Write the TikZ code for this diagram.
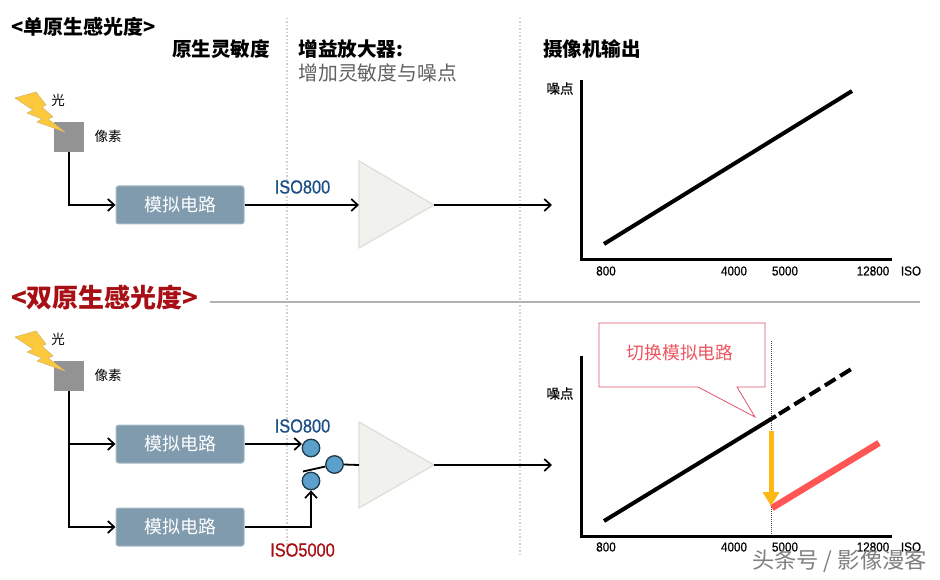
\documentclass[tikz,border=0pt]{standalone}
\usepackage{fontspec}
\setmainfont{Noto Sans CJK SC}
\newfontfamily\isofont[FakeStretch=0.86,FakeBold=0.6]{Liberation Sans}
\newfontfamily\tickfont[FakeStretch=0.9,FakeBold=0.5]{Liberation Sans}
\newfontfamily\medfont[FakeBold=0.5]{Noto Sans CJK SC}
\usetikzlibrary{arrows.meta}
\definecolor{boxblue}{HTML}{7F9BAD}
\definecolor{boxedge}{HTML}{A9BBC7}
\definecolor{isoblue}{HTML}{1A4F86}
\definecolor{darkred}{HTML}{A80F14}
\definecolor{triedge}{HTML}{DDDFD6}
\definecolor{trifill}{HTML}{F1F2EE}
\definecolor{boltfill}{HTML}{FCC83C}
\definecolor{boltedge}{HTML}{D9B766}
\definecolor{pixgray}{HTML}{939393}
\definecolor{dotgray}{HTML}{CFCFCF}
\definecolor{ballblue}{HTML}{5B9FCB}
\definecolor{balledge}{HTML}{1F3A4C}
\definecolor{calloutred}{HTML}{E0566A}
\definecolor{calloutext}{HTML}{EE5560}
\definecolor{redline}{HTML}{FF5555}
\definecolor{arrowgold}{HTML}{FDB813}
\tikzset{
  x=1pt,y=-1pt,
  txt/.style={inner sep=0,outer sep=0,anchor=center,text=black},
  title/.style={txt,font=\fontsize{19.6}{19.6}\selectfont\bfseries},
  small/.style={txt,font=\fontsize{13.5}{13.5}\selectfont},
  noise/.style={txt,font=\fontsize{13.5}{13.5}\selectfont\medfont},
  tick/.style={txt,font=\fontsize{13}{13}\selectfont\tickfont},
  isolabel/.style={txt,font=\fontsize{19}{19}\selectfont\isofont},
  circuit/.style={draw=boxedge,line width=1pt,fill=boxblue,rounded corners=2.5pt,minimum width=128pt,minimum height=38pt,inner sep=0,text=white,font=\fontsize{18}{18}\selectfont},
  pixel/.style={fill=pixgray,minimum size=30pt,inner sep=0},
  ball/.style={circle,draw=balledge,line width=1.3pt,fill=ballblue,minimum size=17.5pt,inner sep=0},
  wire/.style={line width=1.8pt,draw=black},
  arrowwire/.style={wire,-{Straight Barb[length=6.5pt,width=12pt,line width=1.7pt]}},
  divider/.style={draw=dotgray,line width=1.2pt,dash pattern=on 1.5pt off 2pt},
  axisline/.style={line width=3pt,draw=black},
  curve/.style={line width=4pt,draw=black},
  amp/.style={draw=triedge,line width=1.2pt,fill=trifill,line join=round},
  bolt/.style={fill=boltfill,draw=boltedge,line width=.6pt,line join=round},
}
\newcommand{\boltat}[1]{\draw[bolt,shift={(0,#1)}] (15,98)--(36,92)--(46,105)--(42,107)--(53,117)--(48,119)--(65,132)--(37,122)--(42,119)--(27,113)--(33,110)--cycle;}
\begin{document}
\begin{tikzpicture}
\useasboundingbox[fill=white] (0,0) rectangle (940,580);
% dividers
\coordinate (d1t) at (287,18); \coordinate (d1b) at (287,555);
\coordinate (d2t) at (520,18); \coordinate (d2b) at (520,555);
\draw[divider] (d1t)--(d1b);
\draw[divider] (d2t)--(d2b);
% headings
\node[title,font=\fontsize{20}{20}\selectfont\bfseries] (t1) at (83.5,26.5) {<单原生感光度>};
\node[title] (h1) at (221,49) {原生灵敏度};
\node[title,anchor=west] (h2) at (298.5,49) {增益放大器:};
\node[txt,anchor=west,text=black!62,font=\fontsize{19.8}{19.8}\selectfont] (h2b) at (298.5,72.5) {增加灵敏度与噪点};
\node[title,anchor=west] (h3) at (543,49) {摄像机输出};
% upper circuit
\node[pixel] (p1) at (69,137) {};
\boltat{0}
\node[small] (l1) at (58,100.5) {光};
\node[small] (s1) at (108,136) {像素};
\node[circuit] (c1) at (180,205) {模拟电路};
\draw[arrowwire] (p1.south) |- (c1.west);
\coordinate (a1in) at (359,205); \coordinate (a1out) at (434,205);
\coordinate (a1t) at (359,161); \coordinate (a1b) at (359,248);
\draw[amp] (a1t)--(a1out)--(a1b)--cycle;
\draw[arrowwire] (c1.east) -- (a1in);
\node[isolabel,text=isoblue] (i1) at (302.5,187) {ISO800};
\coordinate (o1) at (552,205);
\draw[arrowwire] (a1out) -- (o1);
% upper chart
\coordinate (ax1t) at (581,80); \coordinate (ax1o) at (581,260); \coordinate (ax1r) at (892,260);
\draw[axisline] (ax1t)--(ax1o)--(ax1r);
\coordinate (n1s) at (604,244); \coordinate (n1e) at (852,91);
\draw[curve] (n1s)--(n1e);
\node[noise] (y1) at (560,88.5) {噪点};
\node[tick] (x11) at (606,271) {800};
\node[tick] (x12) at (734,271) {4000};
\node[tick] (x13) at (785,271) {5000};
\node[tick] (x14) at (873,271) {12800};
\node[tick] (x15) at (911,271) {ISO};
% lower heading
\node[txt,text=darkred,font=\fontsize{26}{26}\selectfont\bfseries] (t2) at (105,298) {<双原生感光度>};
\coordinate (rl) at (210,302); \coordinate (rr) at (920,302);
\draw[draw=black!30,line width=1.8pt] (rl)--(rr);
% lower circuit
\node[pixel] (p2) at (69,376) {};
\boltat{239}
\node[small] (l2) at (58,339.5) {光};
\node[small] (s2) at (108,375) {像素};
\node[circuit] (c2) at (180,444) {模拟电路};
\node[circuit] (c3) at (180,527) {模拟电路};
\coordinate (j2) at (69,444);
\draw[wire] (p2.south) -- (j2);
\draw[arrowwire] (j2) -- (c2.west);
\draw[arrowwire] (j2) |- (c3.west);
\node[ball] (b1) at (311,448) {};
\node[ball] (b2) at (334.5,464.5) {};
\node[ball] (b3) at (311,481) {};
\coordinate (sw) at (303,471.5);
\draw[wire] (sw) -- (b2);
\coordinate (a2in) at (359,465); \coordinate (a2out) at (434,465);
\coordinate (a2t) at (359,422); \coordinate (a2b) at (359,508);
\draw[amp] (a2t)--(a2out)--(a2b)--cycle;
\draw[wire] (b2.east) -- (a2in);
\coordinate (e1) at (302,444);
\draw[arrowwire] (c2.east) -- (e1);
\draw[arrowwire] (c3.east) -| (b3.south);
\node[isolabel,text=isoblue] (i2) at (302.5,426) {ISO800};
\node[isolabel,text=darkred] (i3) at (302.5,550) {ISO5000};
\coordinate (o2) at (552,465);
\draw[arrowwire] (a2out) -- (o2);
% lower chart
\coordinate (ax2t) at (581.5,356); \coordinate (ax2o) at (581.5,536.5); \coordinate (ax2r) at (892,536.5);
\coordinate (vt) at (771,341);
\coordinate (vb) at (771,536);
\draw[draw=black!70,line width=.7pt,dash pattern=on 1pt off 1pt] (vt)--(vb);
\draw[axisline] (ax2t)--(ax2o)--(ax2r);
\coordinate (n2s) at (604,521); \coordinate (n2m) at (776,416); \coordinate (n2e) at (853,368);
\draw[curve] (n2s)--(n2m);
\draw[curve,dash pattern=on 12.5pt off 5.5pt] ([shift={(3,-2)}]n2m)--(n2e);
\coordinate (r2s) at (772,508); \coordinate (r2e) at (879,443);
\draw[draw=redline,line width=6.5pt] (r2s)--(r2e);
\coordinate (g1) at (771,431); \coordinate (g2) at (771,506);
\draw[draw=arrowgold,line width=5pt,-{Triangle[length=14pt,width=16pt,fill=arrowgold]}] (g1)--(g2);
\draw[draw=calloutred,fill=white,line width=.8pt] (599,323)--(765,323)--(765,387)--(737,387)--(755,417)--(698,387)--(599,387)--cycle;
\node[txt,text=calloutext,font=\fontsize{17.8}{17.8}\selectfont] (cal) at (680,353) {切换模拟电路};
\node[noise] (y2) at (560,393.5) {噪点};
\node[tick] (x21) at (606,547) {800};
\node[tick] (x22) at (734,547) {4000};
\node[tick] (x23) at (785,547) {5000};
\node[tick] (x24) at (873,547) {12800};
\node[tick] (x25) at (911,547) {ISO};
% watermark
\node[txt,text=black!50,font=\fontsize{22.3}{22.3}\selectfont] (wm) at (839.5,561) {头条号 / 影像漫客};
\end{tikzpicture}
\end{document}
